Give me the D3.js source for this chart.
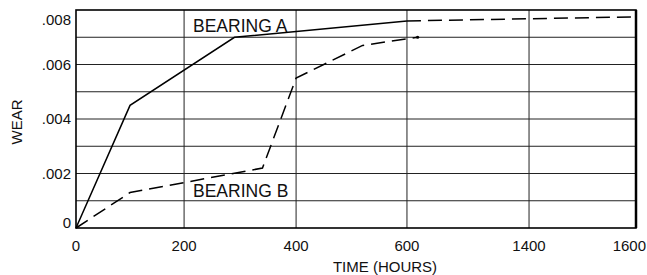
<!DOCTYPE html>
<meta charset="utf-8">
<style>
body { margin: 0; background: #fff; }
text { font-family: "Liberation Sans", Arial, sans-serif; fill: #111; }
.grid line { stroke: #222; stroke-width: 1px; }
.frame { fill: none; stroke: #000; stroke-width: 1.6px; }
.line { fill: none; stroke: #000; stroke-width: 1.5px; }
.dashed { stroke-dasharray: 14, 7; }
</style>
<svg width="647" height="275"></svg>
<script src="https://cdn.jsdelivr.net/npm/d3@7"></script>
<script>

// broken time axis: 600 -> 1400 squeezed into one cell
var xTicks = [0, 200, 400, 600, 1400, 1600],
    yTicks = [0, .002, .004, .006, .008],
    yGrid = [.001, .002, .003, .004, .005, .006, .007];

var bearingA = [[0, 0], [100, .0045], [290, .0070], [600, .0076]],
    bearingAExt = [[600, .0076], [1600, .00775]],
    bearingB = [[0, 0], [100, .0013], [340, .0022], [400, .0055], [520, .0067], [670, .0070]];

var svg = d3.select("svg"),
    x0 = 76, x1 = 636, y0 = 228, y1 = 10;

var x = d3.scaleLinear()
    .domain(xTicks)
    .range([0, .193, .393, .591, .809, 1].map(function(f) { return x0 + f * (x1 - x0); }));

var y = d3.scaleLinear()
    .domain([0, .008])
    .range([y0, y1]);

var grid = svg.append("g").attr("class", "grid");

grid.selectAll(".v")
    .data(xTicks.slice(1, -1))
  .enter().append("line")
    .attr("x1", x).attr("x2", x)
    .attr("y1", y1).attr("y2", y0);

grid.selectAll(".h")
    .data(yGrid)
  .enter().append("line")
    .attr("x1", x0).attr("x2", x1)
    .attr("y1", y).attr("y2", y);

svg.append("rect")
    .attr("class", "frame")
    .attr("x", x0).attr("y", y1)
    .attr("width", x1 - x0).attr("height", y0 - y1);

svg.append("line")
    .attr("x1", x1).attr("x2", x1)
    .attr("y1", y1).attr("y2", y0)
    .style("stroke", "#000").style("stroke-width", 2.5);

svg.selectAll(".xt")
    .data(xTicks)
  .enter().append("text")
    .attr("x", function(d, i) { return i === xTicks.length - 1 ? 646 : x(d); })
    .attr("y", 251)
    .attr("text-anchor", function(d, i) { return i === xTicks.length - 1 ? "end" : "middle"; })
    .style("font-size", "15px")
    .text(function(d) { return d; });

svg.selectAll(".yt")
    .data(yTicks)
  .enter().append("text")
    .attr("x", 71)
    .attr("y", function(d) { return Math.min(Math.max(y(d), 20), 223); })
    .attr("dy", "0.35em")
    .attr("text-anchor", "end")
    .style("font-size", "15px")
    .text(function(d) { return d === 0 ? "0" : d3.format(".3f")(d).slice(1); });

svg.append("text")
    .attr("x", 385).attr("y", 272)
    .attr("text-anchor", "middle")
    .style("font-size", "15px")
    .text("TIME (HOURS)");

svg.append("text")
    .attr("transform", "translate(22,122) rotate(-90)")
    .attr("text-anchor", "middle")
    .style("font-size", "15px")
    .text("WEAR");

var line = d3.line()
    .x(function(d) { return x(d[0]); })
    .y(function(d) { return y(d[1]); });

svg.append("path").datum(bearingA).attr("class", "line").attr("d", line);
svg.append("path").datum(bearingAExt).attr("class", "line dashed").attr("d", line);
svg.append("path").datum(bearingB).attr("class", "line dashed").attr("d", line);

var endB = bearingB[bearingB.length - 1];
svg.append("circle")
    .attr("cx", x(endB[0])).attr("cy", y(endB[1]))
    .attr("r", 1.6).style("fill", "#000");

svg.append("text")
    .attr("x", 193).attr("y", 32)
    .style("font-size", "17.5px")
    .text("BEARING A");

svg.append("text")
    .attr("x", 193).attr("y", 197)
    .style("font-size", "17.5px")
    .text("BEARING B");

</script>
